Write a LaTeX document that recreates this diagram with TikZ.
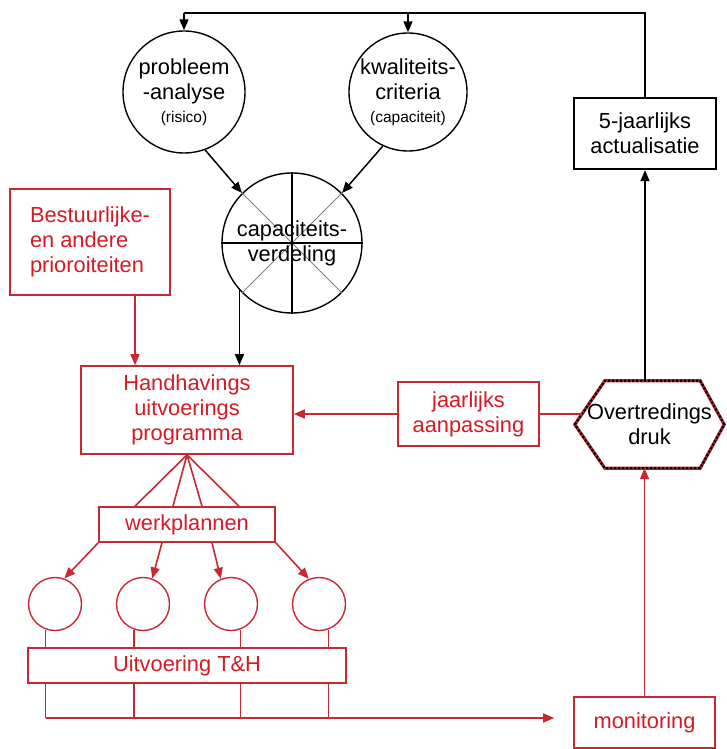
\documentclass[tikz,border=0pt]{standalone}
\usepackage{fontspec}
\setmainfont{Liberation Sans}
\usetikzlibrary{arrows.meta,calc}
\definecolor{redtxt}{RGB}{215,25,35}
\definecolor{redln}{RGB}{200,40,50}
\begin{document}
\begin{tikzpicture}[x=1pt,y=-1pt, font=\fontsize{21.8}{24.8}\selectfont,
 blk/.style={draw=black, line width=1.5pt},
 arr/.style={-{Triangle[length=11pt,width=9pt]}},
 rl/.style={draw=redln, line width=1.6pt},
 rbox/.style={draw=redln, line width=1.6pt, text=redtxt, align=center, inner sep=0pt},
 bcirc/.style={circle, draw=black, line width=1.4pt, inner sep=0pt, align=center},
 rcirc/.style={circle, draw=redln, line width=1.4pt, minimum size=53pt, inner sep=0pt}]
\useasboundingbox (0,0) rectangle (727,749);

% black upper part
\node[bcirc, minimum size=122pt] (prob) at (184,92) {probleem\\-analyse\\[-2pt]{\fontsize{15.5}{17}\selectfont (risico)}};
\node[bcirc, minimum size=118pt] (kwal) at (408,92) {kwaliteits-\\criteria\\[-2pt]{\fontsize{15.5}{17}\selectfont (capaciteit)}};
\node[circle, draw=black, line width=1.4pt, minimum size=140pt, inner sep=0pt] (cap) at (292,243) {};
\draw[gray, line width=1pt] (cap.45) -- (cap.225) (cap.135) -- (cap.315);
\draw[black, line width=1.2pt] (cap.north) -- (cap.south) (cap.west) -- (cap.east);
\node[align=center, inner sep=0pt] (captxt) at (cap.center) {capaciteits-\\verdeling};

\node[draw=black, line width=2.3pt, minimum width=142pt, minimum height=71pt, align=center, inner sep=0pt] (act) at (645,133.5) {5-jaarlijks\\actualisatie};

% hexagon
\node[minimum width=149pt, minimum height=87pt, inner sep=0pt, align=center] (hex) at (649.5,424.5) {Overtredings\\druk};
\draw[redln, line width=3.2pt] (hex.west) -- ($(hex.north west)+(30,0)$) -- ($(hex.north east)+(-24,0)$) -- (hex.east) -- ($(hex.south east)+(-24,0)$) -- ($(hex.south west)+(30,0)$) -- cycle;
\draw[black, line width=2.2pt, dash pattern=on 2.5pt off 1.5pt] (hex.west) -- ($(hex.north west)+(30,0)$) -- ($(hex.north east)+(-24,0)$) -- (hex.east) -- ($(hex.south east)+(-24,0)$) -- ($(hex.south west)+(30,0)$) -- cycle;

% red boxes
\node[rbox, align=left, minimum width=160pt, minimum height=106pt] (best) at (90,242) {Bestuurlijke-\\en andere\\prioroiteiten};
\node[rbox, minimum width=212pt, minimum height=88pt] (hup) at (187,410) {Handhavings\\uitvoerings\\programma};
\node[rbox, minimum width=141pt, minimum height=64pt] (jaar) at (468.5,414) {jaarlijks\\aanpassing};
\node[rbox, minimum width=141pt, minimum height=51pt] (mon) at (644.5,722.5) {monitoring};
\node[rbox, minimum width=176pt, minimum height=35pt] (werk) at (187,524.5) {werkplannen};
\node[rbox, minimum width=318pt, minimum height=35pt] (uitv) at (187,665.5) {Uitvoering T\&H};
\node[rcirc] (c1) at (55,604) {};
\node[rcirc] (c2) at (143,604) {};
\node[rcirc] (c3) at (231,604) {};
\node[rcirc] (c4) at (319,604) {};

% black connectors
\coordinate (tl) at (184,13);
\draw[blk] (act.north) |- (tl);
\draw[blk, arr] (tl) -- (prob.north);
\draw[blk, arr] (kwal.north |- tl) -- (kwal.north);
\draw[blk, arr] (prob.-70) -- (cap.135);
\draw[blk, arr] (kwal.-115) -- (cap.45);
\draw[blk, arr] (cap.-138) -- (cap.-138 |- hup.north);
\draw[blk, arr] (act.south |- hex.north) -- (act.south);

% red connectors
\coordinate (bs) at ([xshift=45pt]best.south);
\draw[rl, arr] (bs) -- (bs |- hup.north);
\coordinate (hl) at (582,414);
\draw[rl] (hl) -- (jaar.east);
\draw[rl, arr] (jaar.west) -- (jaar.west -| hup.east);
\draw[rl, arr] (mon.north) -- (mon.north |- hex.south);

\draw[rl] (hup.south) -- ([xshift=-52pt]werk.north);
\draw[rl] (hup.south) -- ([xshift=-14pt]werk.north);
\draw[rl] (hup.south) -- ([xshift=15pt]werk.north);
\draw[rl] (hup.south) -- ([xshift=52pt]werk.north);

\draw[rl, arr] (werk.south west) -- (c1.70);
\draw[rl, arr] ([xshift=-25pt]werk.south) -- (c2.70);
\draw[rl, arr] ([xshift=25pt]werk.south) -- (c3.112);
\draw[rl, arr] (werk.south east) -- (c4.112);

\coordinate (bl) at (46,718);
\foreach \c/\a in {c1/-110, c2/-110, c3/-70, c4/-70}{
  \draw[rl] (\c.\a) -- (\c.\a |- uitv.north);
  \draw[rl] (\c.\a |- uitv.south) -- (\c.\a |- bl);
}
\draw[rl, arr, shorten >=19pt] (bl) -- (mon.west |- bl);
\end{tikzpicture}
\end{document}
